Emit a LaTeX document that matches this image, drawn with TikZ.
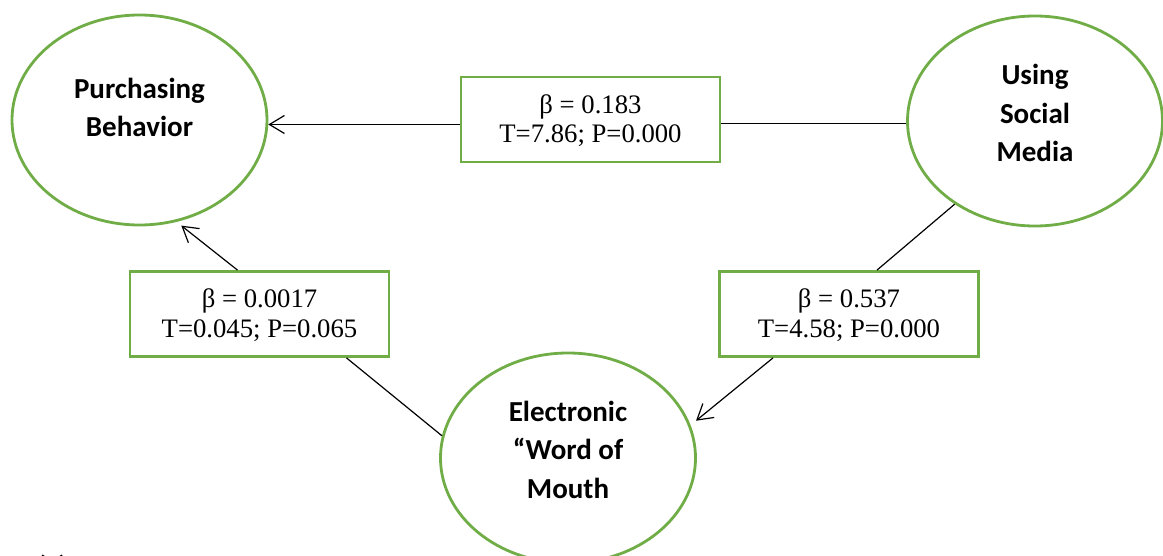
\documentclass[tikz,border=0pt]{standalone}
\usepackage{fontspec}
\setmainfont{Liberation Serif}
\newfontfamily\lblfont{Carlito}
\usetikzlibrary{arrows.meta,shapes.geometric,calc}
\definecolor{grn}{HTML}{70AD47}
\newcommand\liftlines[2]{\raisebox{#1}[\height][\depth]{\begin{tabular}{@{}c@{}}#2\end{tabular}}}
\begin{document}
\begin{tikzpicture}[x=1pt,y=-1pt,
  oval/.style={ellipse, draw=grn, line width=2.8pt, minimum width=255pt, minimum height=210pt,
    inner sep=0pt, font=\lblfont\bfseries\fontsize{29}{38.5}\selectfont},
  stat/.style={rectangle, draw=grn, line width=2.8pt, minimum width=259pt, minimum height=85pt,
    inner sep=0pt, font=\fontsize{26.7}{29.5}\selectfont},
  link/.style={line width=1.2pt, black},
  arr/.style={link, -{Straight Barb[length=15pt,width=18pt,line width=1.2pt]}}]
\useasboundingbox (0,0) rectangle (1163,556);
\node[oval] (PB) at (139.5,120) {\liftlines{10pt}{Purchasing\\Behavior}};
\node[oval] (SM) at (1035,121) {\liftlines{5.5pt}{Using\\Social\\Media}};
\node[oval] (EW) at (568,458) {\liftlines{6pt}{Electronic\\\textquotedblleft Word of\\Mouth}};
\node[stat] (B1) at (590.5,119.5) {\liftlines{-2.5pt}{β = 0.183\\T=7.86; P=0.000}};
\node[stat] (B2) at (259.5,314) {\liftlines{-2.5pt}{β = 0.0017\\T=0.045; P=0.065}};
\node[stat] (B3) at (849,314) {\liftlines{-2.5pt}{β = 0.537\\T=4.58; P=0.000}};
\node[font=\lblfont\bfseries\fontsize{29}{35}\selectfont, anchor=base west, inner sep=0pt] (cap) at (37,576) {(c)};
\draw[link] (SM.181) -- (SM.181 -| B1.east);
\draw[arr] (PB.358 -| B1.west) -- (PB.358);
\draw[arr, shorten >=6pt] ([xshift=-22pt]B2.north) -- (PB.-70);
\draw[link] (EW.170) -- ([xshift=87pt]B2.south);
\draw[link] (SM.-134) -- ([xshift=28pt]B3.north);
\draw[arr, shorten >=7pt] ([xshift=-76pt]B3.south) -- (EW.15);
\end{tikzpicture}
\end{document}
